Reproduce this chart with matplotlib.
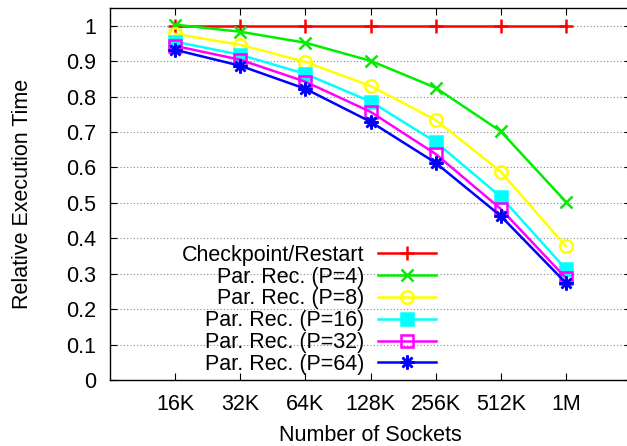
import matplotlib
matplotlib.use("Agg")
import matplotlib.pyplot as plt

# values
sockets = ["16K", "32K", "64K", "128K", "256K", "512K", "1M"]
ckpt_restart = [1.0, 1.0, 1.0, 1.0, 1.0, 1.0, 1.0]
par_rec_p4 = [1.003, 0.983, 0.952, 0.901, 0.825, 0.702, 0.503]
par_rec_p8 = [0.977, 0.946, 0.898, 0.830, 0.734, 0.588, 0.377]
par_rec_p16 = [0.955, 0.918, 0.864, 0.786, 0.672, 0.517, 0.313]
par_rec_p32 = [0.943, 0.904, 0.842, 0.757, 0.638, 0.483, 0.288]
par_rec_p64 = [0.932, 0.887, 0.822, 0.729, 0.613, 0.463, 0.274]

series = [
    ("Checkpoint/Restart", ckpt_restart, "#ff0000", "+", "full", 10),
    ("Par. Rec. (P=4)", par_rec_p4, "#00ee00", "x", "full", 9),
    ("Par. Rec. (P=8)", par_rec_p8, "#ffff00", "o", "none", 9),
    ("Par. Rec. (P=16)", par_rec_p16, "#00ffff", "s", "full", 8),
    ("Par. Rec. (P=32)", par_rec_p32, "#ff00ff", "s", "none", 8),
    ("Par. Rec. (P=64)", par_rec_p64, "#0000ff", (8, 2, 0), "full", 10),
]

plt.rcParams['font.family'] = ['Liberation Sans', 'DejaVu Sans']
plt.rcParams['font.size'] = 15.5

fig = plt.figure(figsize=(6.27, 4.46), dpi=100)
ax = fig.add_axes([110 / 627, 66 / 446, 521 / 627, 372 / 446])

xs = list(range(1, len(sockets) + 1))
for label, vals, color, marker, fill, ms in series:
    ax.plot(xs, vals, color=color, lw=1.8, marker=marker, markersize=ms,
            markeredgewidth=1.8, fillstyle=fill, label=label, clip_on=False)

ax.set_xlim(0, 8)
ax.set_ylim(0, 1.05)
ax.set_xticks(xs)
ax.set_xticklabels(sockets)
ax.set_yticks([i / 10 for i in range(11)])
ax.set_yticklabels(["0", "0.1", "0.2", "0.3", "0.4", "0.5", "0.6", "0.7", "0.8", "0.9", "1"])
ax.tick_params(axis="y", direction="in", length=5, width=0.8, right=True, pad=10)
ax.tick_params(axis="x", direction="in", length=5, width=0.8, top=True, pad=10)
ax.yaxis.grid(True, linestyle=(0, (1, 2)), color="#888888", lw=0.8)
ax.set_axisbelow(True)
for sp in ax.spines.values():
    sp.set_linewidth(1.0)

ax.set_xlabel("Number of Sockets", labelpad=7)
ax.set_ylabel("Relative Execution Time", labelpad=24)

leg = ax.legend(loc="lower right", bbox_to_anchor=(436 / 627, 71 / 446),
                bbox_transform=fig.transFigure, frameon=False, markerfirst=False,
                handlelength=2.7, handletextpad=0.65, labelspacing=0.04,
                borderpad=0, borderaxespad=0)

fig.savefig("out.png", dpi=100)
